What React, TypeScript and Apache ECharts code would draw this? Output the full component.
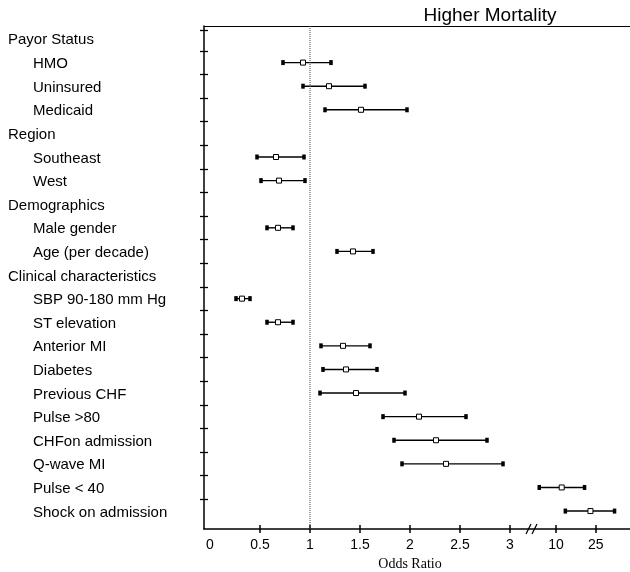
import React, { useEffect, useRef } from "react";
import * as echarts from "echarts";

const rowLabels = [
  "Payor Status", "HMO", "Uninsured", "Medicaid",
  "Region", "Southeast", "West",
  "Demographics", "Male gender", "Age (per decade)",
  "Clinical characteristics", "SBP 90-180 mm Hg", "ST elevation", "Anterior MI",
  "Diabetes", "Previous CHF", "Pulse >80", "CHFon admission", "Q-wave MI",
  "Pulse < 40", "Shock on admission",
];
const headings = ["Payor Status", "Region", "Demographics", "Clinical characteristics"];

const factors = [
  "HMO", "Uninsured", "Medicaid", "Southeast", "West", "Male gender", "Age (per decade)",
  "SBP 90-180 mm Hg", "ST elevation", "Anterior MI", "Diabetes", "Previous CHF",
  "Pulse >80", "CHFon admission", "Q-wave MI", "Pulse < 40", "Shock on admission",
];
const oddsRatio = [0.93, 1.19, 1.51, 0.66, 0.69, 0.68, 1.43, 0.32, 0.68, 1.33, 1.36, 1.46, 2.09, 2.26, 2.36, 11.4, 22.1];
const lowerCI = [0.73, 0.93, 1.15, 0.47, 0.51, 0.57, 1.27, 0.26, 0.57, 1.11, 1.13, 1.10, 1.73, 1.84, 1.92, 6.8, 12.4];
const upperCI = [1.21, 1.55, 1.97, 0.94, 0.95, 0.83, 1.63, 0.40, 0.83, 1.60, 1.67, 1.95, 2.56, 2.77, 2.93, 19.3, 38.5];

const xTickValues = [0, 0.5, 1, 1.5, 2, 2.5, 3, 10, 25];
const breakValue = 3.22; // axis position of the "//" break

// linear up to 3, log-compressed after the break
const toPos = (v: number) => (v <= 3 ? v : 2.46 + Math.log10(v));

const FONT = "'Liberation Sans', Arial, sans-serif";
const Y_MIN = -0.55;
const Y_MAX = 20.76;
const X_MIN = -0.06;
const X_MAX = 4.2;

export default function App() {
  const ref = useRef<HTMLDivElement>(null);
  useEffect(() => {
    if (!ref.current) return;
    const chart = echarts.init(ref.current, undefined, { renderer: "svg" });

    const tickPos = xTickValues.map(toPos);
    const labelFor = (p: number) => {
      const i = tickPos.findIndex((t) => Math.abs(t - p) < 1e-6);
      return i >= 0 ? String(xTickValues[i]) : "";
    };

    const forestData = factors.map((f, i) => [
      toPos(lowerCI[i]), toPos(oddsRatio[i]), toPos(upperCI[i]), rowLabels.indexOf(f),
    ]);

    const rowIdx = rowLabels.map((_, i) => i);
    const midTicks = [-0.38, ...rowLabels.slice(1).map((_, i) => i + 0.5)];

    chart.setOption({
      animation: false,
      grid: { left: 204, right: 0, top: 26, bottom: 43, containLabel: false },
      graphic: [
        {
          type: "text", x: 490, y: 14,
          style: { text: "Higher Mortality", font: `19px ${FONT}`, fill: "#000", align: "center", verticalAlign: "middle" },
        },
        {
          type: "text", x: 410, y: 563,
          style: { text: "Odds Ratio", font: "14px 'Liberation Serif', 'Times New Roman', serif", fill: "#000", align: "center", verticalAlign: "middle" },
        },
      ],
      xAxis: [
        {
          type: "value", position: "bottom", min: X_MIN, max: X_MAX,
          axisLine: { show: true, onZero: false, lineStyle: { color: "#000", width: 1.5 } },
          axisTick: { show: false },
          axisLabel: { show: true, customValues: tickPos, formatter: (v: number) => labelFor(v), color: "#000", fontSize: 14, fontFamily: FONT, margin: 8 },
          splitLine: { show: false },
        },
        {
          type: "value", position: "bottom", offset: -4, min: X_MIN, max: X_MAX,
          axisLine: { show: false, onZero: false },
          axisTick: { show: true, inside: false, length: 8, customValues: tickPos.slice(1), lineStyle: { color: "#000", width: 1.5 } },
          axisLabel: { show: false },
          splitLine: { show: false },
        },
        {
          type: "value", position: "top", min: X_MIN, max: X_MAX,
          axisLine: { show: true, onZero: false, lineStyle: { color: "#000", width: 1.2 } },
          axisTick: { show: false },
          axisLabel: { show: false },
          splitLine: { show: false },
        },
      ],
      yAxis: [
        {
          type: "value", inverse: true, min: Y_MIN, max: Y_MAX, position: "left",
          axisLine: { show: true, onZero: false, lineStyle: { color: "#000", width: 1.5 } },
          axisTick: { show: false },
          axisLabel: {
            show: true, customValues: rowIdx, align: "left", margin: 196,
            formatter: (v: number) => {
              const name = rowLabels[Math.round(v)] ?? "";
              return headings.includes(name) ? `{h|${name}}` : `{i|${name}}`;
            },
            rich: {
              h: { fontSize: 15, fontFamily: FONT, color: "#000" },
              i: { fontSize: 15, fontFamily: FONT, color: "#000", padding: [0, 0, 0, 25] },
            },
          },
          splitLine: { show: false },
        },
        {
          type: "value", inverse: true, min: Y_MIN, max: Y_MAX, position: "left", offset: -4,
          axisLine: { show: false, onZero: false },
          axisTick: { show: true, inside: false, length: 8, customValues: midTicks, lineStyle: { color: "#000", width: 1.3 } },
          axisLabel: { show: false },
          splitLine: { show: false },
        },
      ],
      series: [
        {
          type: "line", xAxisIndex: 0, yAxisIndex: 0, symbol: "none", silent: true,
          data: [[1, Y_MIN], [1, Y_MAX]],
          lineStyle: { color: "#444", width: 1, type: [1, 1] },
        },
        {
          type: "custom", xAxisIndex: 0, yAxisIndex: 0,
          data: forestData,
          renderItem: (params: any, api: any) => {
            const row = api.value(3);
            const lo = api.coord([api.value(0), row]);
            const est = api.coord([api.value(1), row]);
            const hi = api.coord([api.value(2), row]);
            const capW = 3.5, capH = 5, box = 5;
            return {
              type: "group",
              children: [
                { type: "line", shape: { x1: lo[0], y1: lo[1], x2: hi[0], y2: hi[1] }, style: { stroke: "#000", lineWidth: 1.4 } },
                { type: "rect", shape: { x: lo[0] - capW / 2, y: lo[1] - capH / 2, width: capW, height: capH }, style: { fill: "#000" } },
                { type: "rect", shape: { x: hi[0] - capW / 2, y: hi[1] - capH / 2, width: capW, height: capH }, style: { fill: "#000" } },
                { type: "rect", shape: { x: est[0] - box / 2, y: est[1] - box / 2, width: box, height: box }, style: { fill: "#fff", stroke: "#000", lineWidth: 1 } },
              ],
            };
          },
        },
        {
          type: "custom", xAxisIndex: 0, yAxisIndex: 0,
          data: [[breakValue, Y_MAX]],
          renderItem: (params: any, api: any) => {
            const p = api.coord([api.value(0), api.value(1)]);
            return {
              type: "group",
              children: [
                { type: "line", shape: { x1: p[0] - 6, y1: p[1] + 5, x2: p[0] - 1, y2: p[1] - 5 }, style: { stroke: "#000", lineWidth: 1.3 } },
                { type: "line", shape: { x1: p[0] + 0, y1: p[1] + 5, x2: p[0] + 5, y2: p[1] - 5 }, style: { stroke: "#000", lineWidth: 1.3 } },
              ],
            };
          },
        },
      ],
    });
    return () => chart.dispose();
  }, []);
  return <div ref={ref} style={{ position: "fixed", left: 0, top: 0, width: 630, height: 572 }} />;
}
